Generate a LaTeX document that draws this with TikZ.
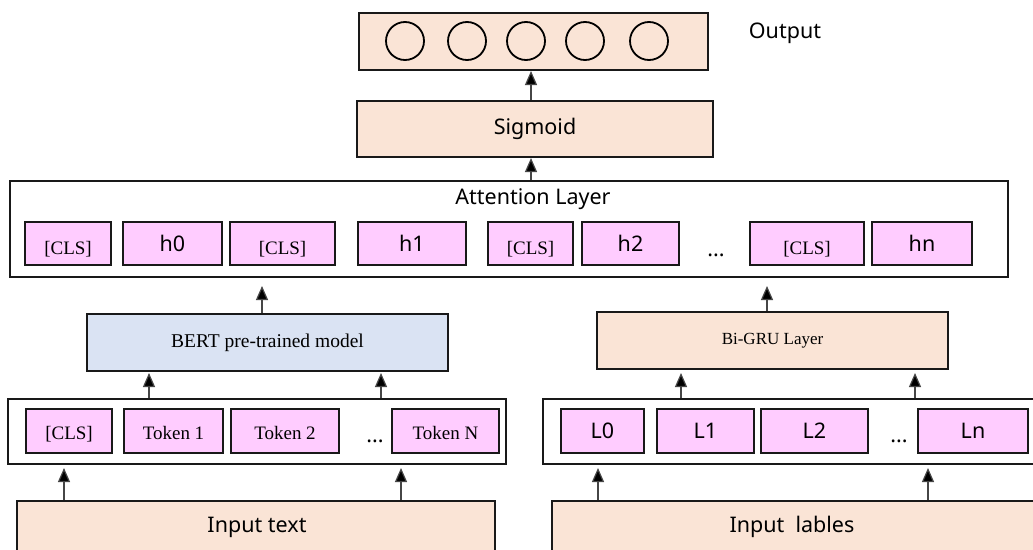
\documentclass[tikz,border=0pt]{standalone}
\usepackage{fontspec}
\setmainfont{Liberation Serif}
\newfontfamily\uisans{Noto Sans}
\usetikzlibrary{arrows.meta,calc}

\definecolor{peach}{RGB}{250,228,214}
\definecolor{pinkcell}{RGB}{255,204,255}
\definecolor{bertblue}{RGB}{218,227,243}
\definecolor{edge}{RGB}{25,25,25}
\definecolor{shaft}{RGB}{70,70,70}

\tikzset{
  panel/.style={draw=edge, line width=2pt, inner sep=0pt},
  outerrow/.style={panel, fill=white},
  peachbox/.style={panel, fill=peach},
  cell/.style={draw=edge, line width=1.8pt, fill=pinkcell, inner sep=0pt},
  sanslabel/.style={font=\uisans\fontsize{21.5}{24}\selectfont},
  seriflabel/.style={font=\fontsize{19}{22}\selectfont},
  lowtext/.style={text height=21pt, text depth=0pt},
  tokentext/.style={text height=16pt, text depth=0pt},
  unit/.style={circle, draw=black, line width=1.8pt, minimum size=38pt, inner sep=0pt},
  arr/.style={draw=shaft, line width=1.2pt, -{Triangle[length=14pt,width=12pt,fill=black]}},
}

\begin{document}
\begin{tikzpicture}[x=1pt,y=-1pt]
\clip (0,0) rectangle (1033,549);
\fill[white] (0,0) rectangle (1033,549);

% ---- output layer ----
\node[peachbox, minimum width=349pt, minimum height=57pt] (out) at (533.5,41.5) {};
\foreach \cx [count=\i] in {405,467,526,585,649}
  \node[unit] (o\i) at (\cx,41) {};
\node[sanslabel, anchor=center] (outlbl) at (785,33) {Output};

% ---- sigmoid ----
\node[peachbox, minimum width=356pt, minimum height=56pt, sanslabel] (sig) at (535,129) {Sigmoid};

% ---- attention layer ----
\node[outerrow, minimum width=998pt, minimum height=96pt] (att) at (509,229) {};
\node[sanslabel] (atttitle) at (533,199) {Attention Layer};
\node[cell, seriflabel, lowtext, minimum width=86pt,  minimum height=43pt] (c1) at (68,243.5)  {[CLS]};
\node[cell, sanslabel,  minimum width=99pt,  minimum height=43pt] (h0) at (172.5,243.5) {h0};
\node[cell, seriflabel, lowtext, minimum width=105pt, minimum height=43pt] (c2) at (282.5,243.5) {[CLS]};
\node[cell, sanslabel,  minimum width=108pt, minimum height=43pt] (h1) at (412,243.5) {h1};
\node[cell, seriflabel, lowtext, minimum width=85pt,  minimum height=43pt] (c3) at (530.5,243.5) {[CLS]};
\node[cell, sanslabel,  minimum width=97pt,  minimum height=43pt] (h2) at (630.5,243.5) {h2};
\node[sanslabel] (hdots) at (716,255) {...};
\node[cell, seriflabel, lowtext, minimum width=114pt, minimum height=43pt] (c4) at (807,243.5) {[CLS]};
\node[cell, sanslabel,  minimum width=100pt, minimum height=43pt] (hn) at (922,243.5) {hn};

% ---- encoders ----
\node[panel, fill=bertblue, minimum width=361pt, minimum height=57pt,
      font=\fontsize{19.5}{22}\selectfont] (bert) at (267.5,342.5) {BERT pre-trained model};
\node[peachbox, minimum width=351pt, minimum height=57pt,
      font=\fontsize{17}{20}\selectfont] (gru) at (772.5,340.5) {Bi-GRU Layer};

% ---- token row ----
\node[outerrow, minimum width=498pt, minimum height=65pt] (tok) at (257,431.5) {};
\node[cell, seriflabel, tokentext, minimum width=86pt,  minimum height=44pt] (t0) at (69,431)    {[CLS]};
\node[cell, seriflabel, tokentext, minimum width=99pt,  minimum height=44pt] (t1) at (173.5,431) {Token 1};
\node[cell, seriflabel, tokentext, minimum width=108pt, minimum height=44pt] (t2) at (285,431)   {Token 2};
\node[sanslabel] (tdots) at (375,441) {...};
\node[cell, seriflabel, tokentext, minimum width=107pt, minimum height=44pt] (tn) at (445.5,431) {Token N};

% ---- label row ----
\node[outerrow, minimum width=497pt, minimum height=65pt] (lab) at (791.5,431.5) {};
\node[cell, sanslabel, minimum width=83pt,  minimum height=44pt] (l0) at (602.5,431) {L0};
\node[cell, sanslabel, minimum width=97pt,  minimum height=44pt] (l1) at (705.5,431) {L1};
\node[cell, sanslabel, minimum width=107pt, minimum height=44pt] (l2) at (814.5,431) {L2};
\node[sanslabel] (ldots) at (899,441) {...};
\node[cell, sanslabel, minimum width=110pt, minimum height=44pt] (ln) at (973,431) {Ln};

% ---- inputs ----
\node[peachbox, minimum width=478pt, minimum height=54pt, sanslabel] (intext) at (256,528) {};
\node[sanslabel] (intextlbl) at (257,527) {Input text};
\node[peachbox, minimum width=488pt, minimum height=54pt] (inlab) at (796,528) {};
\node[sanslabel] (inlablbl) at (792,527) {Input~ lables};

% ---- connectors ----
\draw[arr] ([xshift=-4pt]sig.north) -- ([xshift=-2.5pt]out.south);
\draw[arr] ([xshift=22pt]att.north) -- ([xshift=-4pt]sig.south);

\coordinate (attgap) at ([yshift=-8pt]att.south);
\coordinate (bertup) at ([xshift=-5.5pt]bert.north);
\coordinate (gruup)  at ([xshift=-5.5pt]gru.north);
\draw[arr] (bertup) -- (bertup |- attgap);
\draw[arr] (gruup)  -- (gruup |- attgap);

\coordinate (tokA) at ([xshift=-108pt]tok.north);
\coordinate (tokB) at ([xshift=124pt]tok.north);
\coordinate (bertgap) at ([yshift=-1pt]bert.south);
\draw[arr] (tokA) -- (tokA |- bertgap);
\draw[arr] (tokB) -- (tokB |- bertgap);

\coordinate (labA) at ([xshift=-110.5pt]lab.north);
\coordinate (labB) at ([xshift=123.5pt]lab.north);
\coordinate (grugap) at ([yshift=-3pt]gru.south);
\draw[arr] (labA) -- (labA |- grugap);
\draw[arr] (labB) -- (labB |- grugap);

\coordinate (tokgap) at ([yshift=-3pt]tok.south);
\coordinate (inA) at ([xshift=-192pt]intext.north);
\coordinate (inB) at ([xshift=145pt]intext.north);
\draw[arr] (inA) -- (inA |- tokgap);
\draw[arr] (inB) -- (inB |- tokgap);

\coordinate (labgap) at ([yshift=-3pt]lab.south);
\coordinate (inC) at ([xshift=-198pt]inlab.north);
\coordinate (inD) at ([xshift=132pt]inlab.north);
\draw[arr] (inC) -- (inC |- labgap);
\draw[arr] (inD) -- (inD |- labgap);
\end{tikzpicture}
\end{document}
